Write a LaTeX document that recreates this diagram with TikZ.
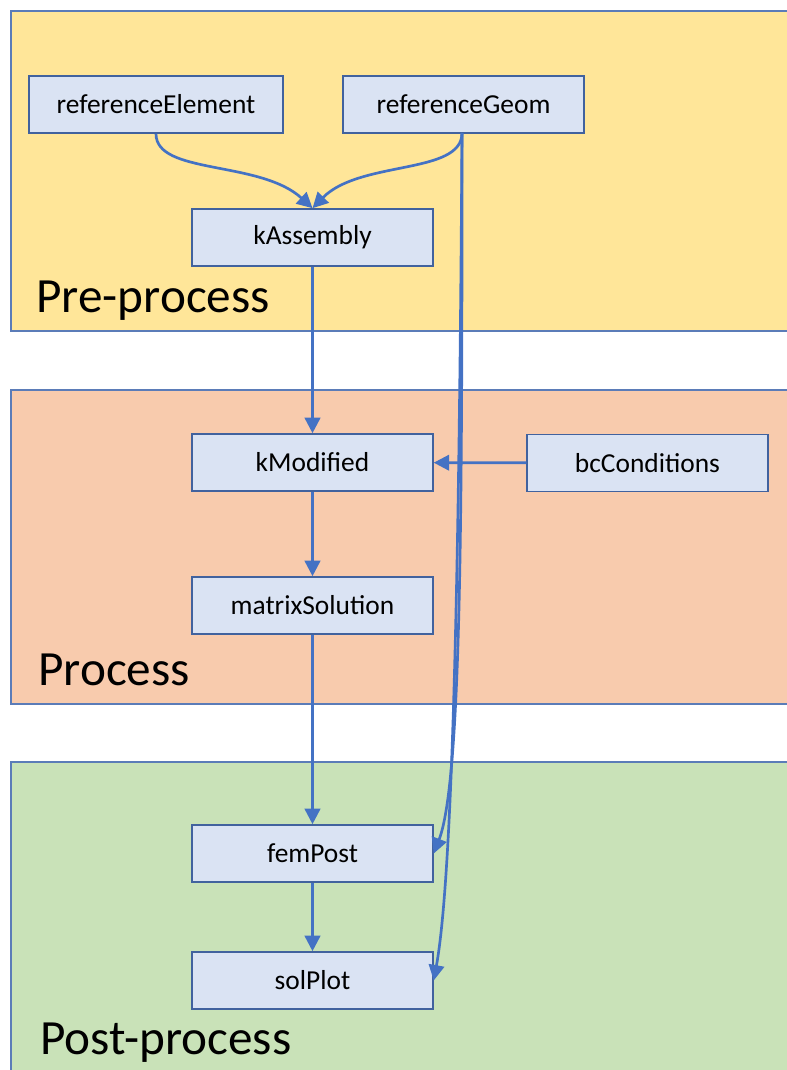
\documentclass[tikz,border=0pt]{standalone}
\usepackage{fontspec}
\setmainfont{Carlito}
\usetikzlibrary{arrows.meta}

\definecolor{preFill}{HTML}{FFE699}
\definecolor{procFill}{HTML}{F8CBAD}
\definecolor{postFill}{HTML}{C9E2B8}
\definecolor{panelLine}{HTML}{5B7CB8}
\definecolor{boxFill}{HTML}{DAE3F3}
\definecolor{boxLine}{HTML}{41629E}
\definecolor{flowLine}{HTML}{4472C4}

\begin{document}
\begin{tikzpicture}[
			x=0.025cm, y=-0.025cm,
			panel/.style={draw=panelLine, line width=1pt},
			stage/.style={anchor=base west, inner sep=0pt, font=\fontsize{35}{40}\selectfont},
			block/.style={draw=boxLine, fill=boxFill, line width=1pt, minimum width=6.025cm,
					minimum height=1.43cm, inner sep=0pt, font=\fontsize{19.5}{22}\selectfont},
			flow/.style={draw=flowLine, line width=1.9pt, -{Triangle[length=11pt, width=11pt]}}
		]
		\useasboundingbox (0,0) rectangle (787,1070);
		% stages
		\path[panel, fill=preFill] (11,11) rectangle (800,331);
		\path[panel, fill=procFill] (11,390) rectangle (800,704);
		\path[panel, fill=postFill] (11,762) rectangle (800,1085);
		\node[stage] (pre) at (36,312) {Pre-process};
		\node[stage] (proc) at (38,685) {Process};
		\node[stage] (post) at (40,1054) {Post-process};
		% blocks
		\node[block, minimum width=6.35cm] (refElem) at (156,104.5) {referenceElement};
		\node[block] (refGeom) at (463.5,104.5) {referenceGeom};
		\node[block] (kAsm) at (312.5,237.5) {kAssembly};
		\node[block] (kMod) at (312.5,462.5) {kModified};
		\node[block] (bcCond) at (647.5,463) {bcConditions};
		\node[block] (matSol) at (312.5,605.5) {matrixSolution};
		\node[block] (fPost) at (312.5,853.5) {femPost};
		\node[block] (sPlot) at (312.5,980.5) {solPlot};
		% connectors
		\draw[flow] (refElem.south) .. controls (156,175) and (260,160) .. (kAsm.north);
		\draw[flow] (462,133) .. controls (462,175) and (360,160) .. (kAsm.north);
		\draw[flow] (462,133) .. controls (462,500) and (462,780) .. (fPost.east);
		\draw[flow] (462,133) .. controls (459,600) and (452,880) .. (sPlot.east);
		\draw[flow] (kAsm) -- (kMod);
		\draw[flow] (bcCond) -- (kMod);
		\draw[flow] (kMod) -- (matSol);
		\draw[flow] (matSol) -- (fPost);
		\draw[flow] (fPost) -- (sPlot);
	\end{tikzpicture}
\end{document}
